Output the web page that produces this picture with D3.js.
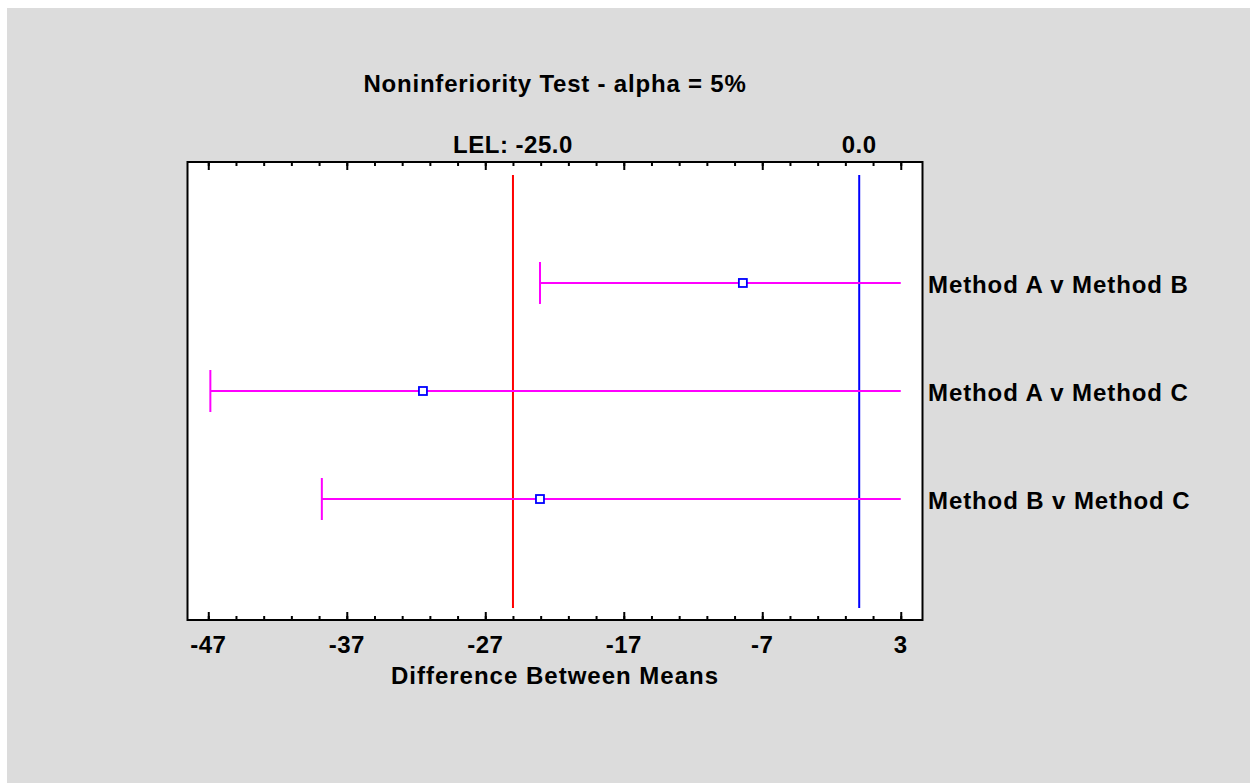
<!DOCTYPE html>
<html>
<head>
<meta charset="utf-8">
<script src="https://cdn.jsdelivr.net/npm/d3@7"></script>
<style>
  html, body { margin: 0; padding: 0; background: #ffffff; }
  svg { display: block; }
  text { font-family: "Liberation Sans", Arial, sans-serif; font-weight: bold; fill: #000; }
</style>
</head>
<body>
<svg id="chart" width="1250" height="783"></svg>
<script>
// ---- data ----
const categories = ["Method A v Method B", "Method A v Method C", "Method B v Method C"];
const estimates  = [-8.4, -31.5, -23.05];
const lowerLimits = [-23.05, -46.85, -38.8];
const upperLimits = [3, 3, 3];           // bars run to the right end of the axis
const lelValue = -25.0;
const zeroValue = 0.0;
const tickValues = [-47, -37, -27, -17, -7, 3];
const tickLabels = ["-47", "-37", "-27", "-17", "-7", "3"];
const minorTickValues = d3.range(-47, 3.01, 2);
const titleText = "Noninferiority Test - alpha = 5%";
const xAxisTitle = "Difference Between Means";
const lelLabel = "LEL: -25.0";
const zeroLabel = "0.0";

// ---- layout ----
const svg = d3.select("#chart");
const L = 187.5, R = 922.5, T = 162, B = 620;

svg.append("rect").attr("x", 7).attr("y", 8).attr("width", 1243).attr("height", 775).attr("fill", "#dcdcdc");

const x = d3.scaleLinear().domain([-48.5, 4.57]).range([L, R]);
const y = d3.scalePoint().domain(categories).range([T, B]).padding(1.12);

// plot area
svg.append("rect").attr("x", L).attr("y", T).attr("width", R - L).attr("height", B - T)
  .attr("fill", "#ffffff");

// axes (ticks pointing inward)
const bottomMinor = d3.axisTop(x).tickValues(minorTickValues).tickSize(4).tickFormat("");
const bottomMajor = d3.axisTop(x).tickValues(tickValues).tickSize(8).tickFormat("");
const topMinor = d3.axisBottom(x).tickValues(minorTickValues).tickSize(4).tickFormat("");
const topMajor = d3.axisBottom(x).tickValues(tickValues).tickSize(8).tickFormat("");

function styleAxis(g) {
  g.select(".domain").remove();
  g.selectAll(".tick line").attr("stroke", "#000").attr("stroke-width", 2);
}
svg.append("g").attr("transform", `translate(0,${B})`).call(bottomMinor).call(styleAxis);
svg.append("g").attr("transform", `translate(0,${B})`).call(bottomMajor).call(styleAxis);
svg.append("g").attr("transform", `translate(0,${T})`).call(topMinor).call(styleAxis);
svg.append("g").attr("transform", `translate(0,${T})`).call(topMajor).call(styleAxis);

// tick labels
svg.append("g").selectAll("text").data(tickValues).join("text")
  .attr("x", d => x(d)).attr("y", 653)
  .attr("text-anchor", "middle").attr("font-size", 24).style("letter-spacing", "0.5px")
  .text((d, i) => tickLabels[i]);

// reference lines
svg.append("line").attr("x1", x(lelValue)).attr("x2", x(lelValue)).attr("y1", 175).attr("y2", 608)
  .attr("stroke", "#ff0000").attr("stroke-width", 2);
svg.append("line").attr("x1", x(zeroValue)).attr("x2", x(zeroValue)).attr("y1", 175).attr("y2", 608)
  .attr("stroke", "#0000ff").attr("stroke-width", 2);

// error bars
const rows = categories.map((c, i) => ({ c, est: estimates[i], lo: lowerLimits[i], hi: upperLimits[i] }));
const g = svg.append("g");
g.selectAll("line.bar").data(rows).join("line").attr("class", "bar")
  .attr("x1", d => x(d.lo)).attr("x2", d => x(d.hi))
  .attr("y1", d => y(d.c)).attr("y2", d => y(d.c))
  .attr("stroke", "#ff00ff").attr("stroke-width", 2);
g.selectAll("line.cap").data(rows).join("line").attr("class", "cap")
  .attr("x1", d => x(d.lo)).attr("x2", d => x(d.lo))
  .attr("y1", d => y(d.c) - 21).attr("y2", d => y(d.c) + 21)
  .attr("stroke", "#ff00ff").attr("stroke-width", 2);
g.selectAll("rect.pt").data(rows).join("rect").attr("class", "pt")
  .attr("x", d => x(d.est) - 4).attr("y", d => y(d.c) - 4)
  .attr("width", 8).attr("height", 8)
  .attr("fill", "#ffffff").attr("stroke", "#0000ff").attr("stroke-width", 1.8);

// frame
svg.append("rect").attr("x", L).attr("y", T).attr("width", R - L).attr("height", B - T)
  .attr("fill", "none").attr("stroke", "#000").attr("stroke-width", 2);

// category labels
svg.append("g").selectAll("text").data(categories).join("text")
  .attr("x", 928).attr("y", d => y(d) + 10)
  .attr("font-size", 24).style("letter-spacing", "0.9px")
  .text(d => d);

// title and annotations
svg.append("text").attr("x", (L + R) / 2).attr("y", 92).attr("text-anchor", "middle")
  .attr("font-size", 24).style("letter-spacing", "0.8px").text(titleText);
svg.append("text").attr("x", x(lelValue)).attr("y", 152.5).attr("text-anchor", "middle")
  .attr("font-size", 24).style("letter-spacing", "0.5px").text(lelLabel);
svg.append("text").attr("x", x(zeroValue)).attr("y", 152.5).attr("text-anchor", "middle")
  .attr("font-size", 24).style("letter-spacing", "0.5px").text(zeroLabel);
svg.append("text").attr("x", (L + R) / 2).attr("y", 684).attr("text-anchor", "middle")
  .attr("font-size", 24).style("letter-spacing", "1px").text(xAxisTitle);
</script>
</body>
</html>
